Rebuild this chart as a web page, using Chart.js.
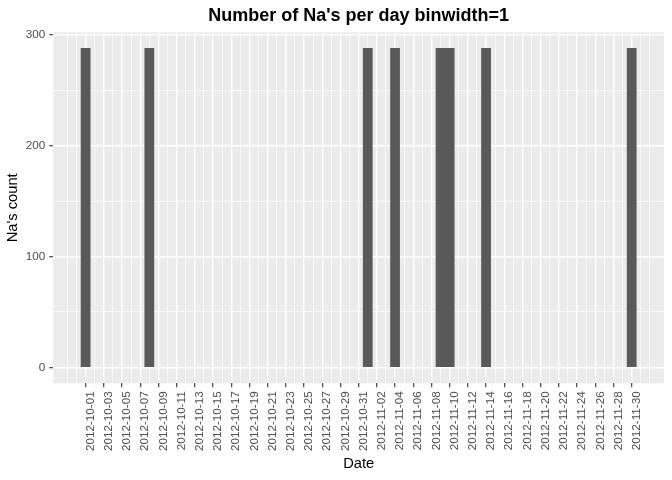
<!DOCTYPE html>
<html>
<head>
<meta charset="utf-8">
<script src="https://cdn.jsdelivr.net/npm/chart.js@4/dist/chart.umd.min.js"></script>
<style>
  html, body { margin: 0; padding: 0; background: #ffffff; }
  #c { display: block; }
</style>
</head>
<body>
<canvas id="c" width="672" height="480"></canvas>
<script>
// ---- data ----
const startDate = '2012-10-01';
const naDates = ['2012-10-01', '2012-10-08', '2012-11-01', '2012-11-04',
                 '2012-11-09', '2012-11-10', '2012-11-14', '2012-11-30'];
const naCounts = [288, 288, 288, 288, 288, 288, 288, 288];
const dateLabels = [
  '2012-10-01', '2012-10-03', '2012-10-05', '2012-10-07', '2012-10-09', '2012-10-11',
  '2012-10-13', '2012-10-15', '2012-10-17', '2012-10-19', '2012-10-21', '2012-10-23',
  '2012-10-25', '2012-10-27', '2012-10-29', '2012-10-31', '2012-11-02', '2012-11-04',
  '2012-11-06', '2012-11-08', '2012-11-10', '2012-11-12', '2012-11-14', '2012-11-16',
  '2012-11-18', '2012-11-20', '2012-11-22', '2012-11-24', '2012-11-26', '2012-11-28',
  '2012-11-30'
];
const yTickValues = [0, 100, 200, 300];

// ---- helpers ----
function dayOffset(s) {
  const a = s.split('-').map(Number), b = startDate.split('-').map(Number);
  return Math.round((Date.UTC(a[0], a[1] - 1, a[2]) - Date.UTC(b[0], b[1] - 1, b[2])) / 86400000);
}
const labelByDay = {};
dateLabels.forEach(l => { labelByDay[dayOffset(l)] = l; });
const barDays = naDates.map(dayOffset);
const firstDay = Math.min(...dateLabels.map(dayOffset));
const lastDay = Math.max(...dateLabels.map(dayOffset));
const xSpan = (lastDay + 0.5) - (firstDay - 0.5);
const xMin = firstDay - 0.5 - 0.05 * xSpan;
const xMax = lastDay + 0.5 + 0.05 * xSpan;
const yTop = Math.max(...naCounts);
const yMin = -0.05 * yTop, yMax = yTop * 1.05;

const FONT = "'Liberation Sans', Arial, Helvetica, sans-serif";

const panelBg = {
  id: 'panelBg',
  beforeDraw(chart) {
    const a = chart.chartArea, ctx = chart.ctx;
    ctx.save();
    ctx.fillStyle = '#EBEBEB';
    ctx.fillRect(a.left, a.top, a.right - a.left, a.bottom - a.top);
    ctx.restore();
  }
};

new Chart(document.getElementById('c'), {
  type: 'bar',
  data: {
    datasets: [{
      data: barDays.map((d, i) => ({ x: d, y: naCounts[i] })),
      backgroundColor: '#595959',
      borderWidth: 0,
      barPercentage: 1,
      categoryPercentage: 1
    }]
  },
  options: {
    responsive: false,
    animation: false,
    devicePixelRatio: 1,
    layout: { padding: { left: 0, right: 8, top: 0, bottom: 0 } },
    plugins: {
      legend: { display: false },
      tooltip: { enabled: false },
      title: {
        display: true,
        text: "Number of Na's per day binwidth=1",
        fullSize: false,
        color: '#000000',
        font: { family: FONT, size: 18, weight: 'bold', lineHeight: 1.2 },
        padding: { top: 5, bottom: 5.7 }
      }
    },
    scales: {
      x: {
        type: 'linear',
        min: xMin,
        max: xMax,
        offset: false,
        afterBuildTicks(scale) {
          const t = [];
          for (let v = Math.ceil(xMin) + 1; v <= Math.floor(xMax) - 1; v++) t.push({ value: v });
          scale.ticks = t;
        },
        afterFit(scale) { scale.height = 96.7; },
        border: { display: false },
        grid: {
          offset: false,
          color: '#FFFFFF',
          lineWidth: ctx => (ctx.tick && labelByDay[ctx.tick.value] !== undefined) ? 1.4 : 0.7,
          drawTicks: true,
          tickLength: 4,
          tickWidth: 1.1,
          tickColor: ctx => (ctx.tick && labelByDay[ctx.tick.value] !== undefined) ? '#333333' : 'rgba(0,0,0,0)'
        },
        ticks: {
          autoSkip: false,
          minRotation: 90,
          maxRotation: 90,
          padding: 4,
          labelOffset: 5,
          color: '#4D4D4D',
          font: { family: FONT, size: 11.7 },
          callback: v => labelByDay[v] !== undefined ? labelByDay[v] : ''
        },
        title: {
          display: true,
          text: 'Date',
          color: '#000000',
          font: { family: FONT, size: 14.7, lineHeight: 1.2 },
          padding: { top: 0, bottom: 7 }
        }
      },
      y: {
        type: 'linear',
        min: yMin,
        max: yMax,
        afterBuildTicks(scale) {
          const t = [];
          for (let v = 0; v <= yTop + 12; v += 50) t.push({ value: v });
          scale.ticks = t;
        },
        afterFit(scale) { scale.width = 53.3; },
        border: { display: false },
        grid: {
          offset: false,
          color: '#FFFFFF',
          lineWidth: ctx => (ctx.tick && yTickValues.includes(ctx.tick.value)) ? 1.4 : 0.7,
          drawTicks: true,
          tickLength: 4,
          tickWidth: 1.1,
          tickColor: ctx => (ctx.tick && yTickValues.includes(ctx.tick.value)) ? '#333333' : 'rgba(0,0,0,0)'
        },
        ticks: {
          padding: 4,
          color: '#4D4D4D',
          font: { family: FONT, size: 11.7 },
          callback: v => yTickValues.includes(v) ? String(v) : ''
        },
        title: {
          display: true,
          text: "Na's count",
          color: '#000000',
          font: { family: FONT, size: 14.7, lineHeight: 1.2 },
          padding: { top: 4, bottom: 0 }
        }
      }
    }
  },
  plugins: [panelBg]
});
</script>
</body>
</html>
